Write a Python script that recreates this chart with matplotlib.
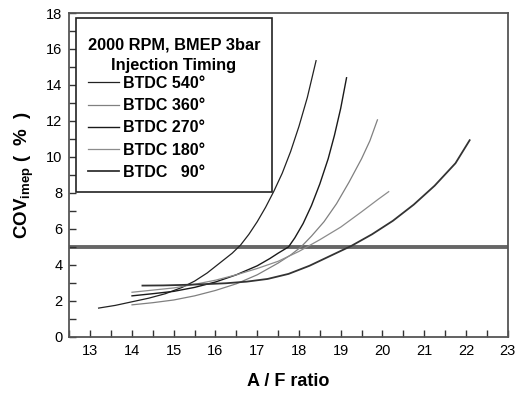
import matplotlib
matplotlib.use("Agg")
import matplotlib.pyplot as plt
from matplotlib.ticker import MultipleLocator
from matplotlib.offsetbox import DrawingArea, VPacker

plt.rcParams['font.family'] = ['Liberation Sans', 'DejaVu Sans']
plt.rcParams['mathtext.fontset'] = 'custom'
plt.rcParams['mathtext.bf'] = 'Liberation Sans:bold'
plt.rcParams['mathtext.rm'] = 'Liberation Sans'

# A/F ratio vs COV_imep
af_540 = [13.2, 13.6, 14.0, 14.4, 14.8, 15.2, 15.5, 15.8, 16.1, 16.4, 16.6, 16.8, 17.0, 17.2, 17.4, 17.6, 17.8, 18.0, 18.2, 18.41]
cov_540 = [1.6, 1.75, 1.95, 2.15, 2.4, 2.75, 3.1, 3.55, 4.1, 4.65, 5.1, 5.7, 6.4, 7.2, 8.1, 9.1, 10.3, 11.7, 13.3, 15.35]

af_360 = [14.0, 14.5, 15.0, 15.5, 16.0, 16.5, 17.0, 17.5, 17.8, 18.05, 18.3, 18.6, 18.9, 19.2, 19.5, 19.7, 19.88]
cov_360 = [1.78, 1.9, 2.05, 2.28, 2.58, 2.95, 3.45, 4.1, 4.55, 5.0, 5.6, 6.4, 7.4, 8.6, 9.9, 10.9, 12.06]

af_270 = [14.0, 14.5, 15.0, 15.5, 16.0, 16.5, 17.0, 17.3, 17.5, 17.75, 17.9, 18.1, 18.3, 18.5, 18.7, 18.85, 19.0, 19.14]
cov_270 = [2.28, 2.4, 2.53, 2.75, 3.05, 3.45, 3.95, 4.35, 4.65, 5.0, 5.5, 6.3, 7.3, 8.5, 9.9, 11.2, 12.7, 14.4]

af_180 = [14.0, 14.5, 15.0, 15.5, 16.0, 16.5, 17.0, 17.5, 18.0, 18.5, 19.0, 19.5, 19.9, 20.15]
cov_180 = [2.48, 2.6, 2.72, 2.92, 3.15, 3.45, 3.8, 4.2, 4.75, 5.4, 6.1, 6.95, 7.65, 8.07]

af_90 = [14.25, 14.75, 15.25, 15.75, 16.25, 16.75, 17.25, 17.75, 18.25, 18.75, 19.25, 19.75, 20.25, 20.75, 21.25, 21.75, 22.09]
cov_90 = [2.85, 2.86, 2.89, 2.93, 2.98, 3.07, 3.22, 3.5, 3.95, 4.5, 5.05, 5.7, 6.45, 7.35, 8.4, 9.65, 10.93]

labels = ['BTDC 540°', 'BTDC 360°', 'BTDC 270°', 'BTDC 180°', 'BTDC   90°']
limit_cov = 5.0

fig = plt.figure(figsize=(5.18, 3.94), dpi=100)
ax = fig.add_axes([0.134, 0.145, 0.846, 0.822])

ax.plot(af_540, cov_540, color='#222222', lw=0.9, label=labels[0])
ax.plot(af_360, cov_360, color='#808080', lw=0.9, label=labels[1])
ax.plot(af_270, cov_270, color='#1a1a1a', lw=1.0, label=labels[2])
ax.plot(af_180, cov_180, color='#8c8c8c', lw=0.9, label=labels[3])
ax.plot(af_90, cov_90, color='#333333', lw=1.3, label=labels[4])
ax.axhline(limit_cov, color='#666666', lw=2.8, zorder=1)

ax.set_xlim(12.5, 23)
ax.set_ylim(0, 18)
ax.xaxis.set_major_locator(MultipleLocator(1))
ax.xaxis.set_minor_locator(MultipleLocator(0.5))
ax.yaxis.set_major_locator(MultipleLocator(2))
ax.yaxis.set_minor_locator(MultipleLocator(1))
ax.tick_params(which='both', direction='in', color='#333333', width=1.0, labelsize=10.5, pad=5)
ax.tick_params(which='major', length=5)
ax.tick_params(which='minor', length=5)
for s in ax.spines.values():
    s.set_color('#555555')
    s.set_linewidth(1.3)

ax.set_xlabel('A / F ratio', fontsize=13, fontweight='bold', labelpad=11)
ax.set_ylabel(r'COV$_{\mathbf{imep}}$ (  %  )', fontsize=13.5, fontweight='bold', labelpad=7)

leg = ax.legend(loc='upper left', bbox_to_anchor=(0.014, 0.985),
                title='2000 RPM, BMEP 3bar\nInjection Timing',
                prop={'size': 11.5, 'weight': 'bold'},
                title_fontproperties={'size': 11.8, 'weight': 'bold'},
                fancybox=False, framealpha=1,
                edgecolor='#222222', handlelength=1.95, handletextpad=0.3,
                labelspacing=0.45, borderpad=0.75, borderaxespad=0)
leg.get_frame().set_linewidth(1.2)
leg.get_title().set_multialignment('center')
leg.get_title().set_linespacing(1.45)
leg._legend_box.align = 'left'
# extra room above the title, less between title and entries
title_box = leg._legend_box._children[0]
leg._legend_box._children[0] = VPacker(pad=0, sep=0, align='left',
                                       children=[DrawingArea(1, 5.5), title_box])
leg._legend_box.sep = 2.3

fig.savefig('out.png', dpi=100)
